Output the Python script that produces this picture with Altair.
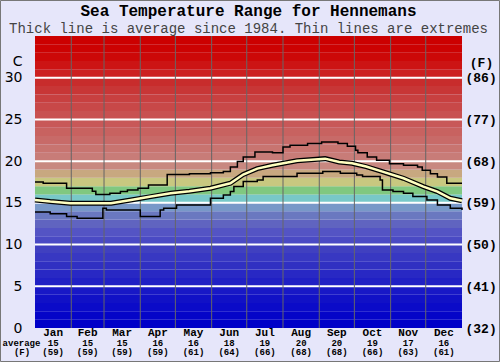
import altair as alt
import pandas as pd

W, H = 427, 292
MONO = "'Liberation Mono', 'Courier New', 'DejaVu Sans Mono', monospace"

title_text = "Sea Temperature Range for Hennemans"
subtitle_text = "Thick line is average since 1984. Thin lines are extremes"

months = ["Jan", "Feb", "Mar", "Apr", "May", "Jun", "Jul", "Aug", "Sep", "Oct", "Nov", "Dec"]
month_start = [0, 31, 59, 90, 120, 151, 181, 212, 243, 273, 304, 334, 365]
avg_c = [15, 15, 15, 16, 16, 18, 19, 20, 20, 19, 17, 16]
avg_f = [59, 59, 59, 59, 61, 64, 66, 68, 68, 66, 63, 61]
y_ticks = [0, 5, 10, 15, 20, 25, 30]

max_day = [0, 7, 27, 49, 52, 64, 73, 79, 88, 97, 113, 132, 150, 161, 167, 173, 178, 188,
           203, 212, 218, 233, 245, 259, 267, 274, 276, 284, 292, 303, 315, 327, 331, 338,
           344, 352, 365]
max_val = [17.5, 17.35, 16.75, 16.4, 16.0, 16.15, 16.35, 16.55, 16.75, 17.15, 18.4, 18.5,
           18.6, 18.75, 19.3, 19.95, 20.5, 21.1, 21.0, 21.7, 21.9, 22.1, 22.3, 22.1, 21.8,
           21.3, 21.0, 20.5, 20.1, 19.7, 19.5, 19.3, 18.9, 18.5, 18.1, 17.35, 17.35]

avg_day = [0, 13, 30, 65, 82, 99, 116, 132, 150, 167, 178, 190, 203, 224, 248, 260, 271,
           283, 297, 315, 332, 344, 355, 365]
avg_val = [15.35, 15.15, 14.95, 14.95, 15.35, 15.75, 16.15, 16.4, 16.75, 17.35, 18.4, 19.1,
           19.5, 20.05, 20.3, 19.9, 19.75, 19.35, 18.75, 17.95, 16.95, 16.35, 15.55, 15.25]

min_day = [0, 13, 27, 36, 58, 61, 90, 107, 110, 121, 150, 161, 167, 170, 178, 190, 195,
           224, 246, 261, 275, 280, 295, 297, 306, 315, 323, 335, 344, 355, 365]
min_val = [13.9, 13.7, 13.35, 13.15, 14.35, 14.15, 13.35, 14.15, 14.35, 14.75, 15.55, 15.95,
           16.35, 16.95, 17.55, 17.75, 18.15, 18.55, 18.75, 18.55, 18.35, 18.15, 17.75, 16.55,
           16.35, 16.15, 15.75, 15.35, 14.75, 14.35, 14.15]

band_colors = [
    "#0000c8", "#0505c8", "#0b0bc8", "#1111c6", "#1818c6", "#2020c4", "#2828c4", "#3030c2",
    "#3838c2", "#4040c0", "#4a4ac4", "#5454c4", "#6064c0", "#6a78c0", "#7898c8", "#78c8c8",
    "#80c880", "#c8c880", "#c8a880", "#c88880", "#c87c78", "#c87470", "#c86a68", "#c86260",
    "#c85858", "#c85050", "#c84848", "#c84040", "#c83636", "#c82c2c", "#cc2020", "#cc1414",
    "#cc0808", "#cc0202", "#cc0000",
]

xs = alt.Scale(domain=[0, 365], nice=False, zero=False)
ys = alt.Scale(domain=[0, 35], nice=False, zero=False)

bands = pd.DataFrame({"lo": list(range(35)), "hi": list(range(1, 36)), "col": band_colors})
grid_df = pd.DataFrame({"v": y_ticks[1:]})
vlines = pd.DataFrame({"d": month_start[1:-1]})
mx = pd.DataFrame({"d": max_day, "v": max_val})
av = pd.DataFrame({"d": avg_day, "v": avg_val})
mn = pd.DataFrame({"d": min_day, "v": min_val})
mid = [(month_start[i] + month_start[i + 1]) / 2 for i in range(12)]
lab = pd.DataFrame({"d": mid, "m": months, "c": [str(v) for v in avg_c],
                    "f": ["(%d)" % v for v in avg_f]})
one = pd.DataFrame({"a": [0]})

left_axis = alt.Axis(values=y_ticks, ticks=False, domain=False, grid=False,
                     labelFont="DejaVu Sans", labelFontSize=14, labelColor="black",
                     labelPadding=13, title="C", titleAngle=0, titleX=-13, titleY=25,
                     titleAlign="right", titleBaseline="middle", titleFont="DejaVu Sans",
                     titleFontSize=14, titleFontWeight="normal", titleColor="black")
right_axis = alt.Axis(orient="right", values=y_ticks, ticks=False, domain=False, grid=False,
                      labelExpr="'(' + format(datum.value * 9 / 5 + 32, 'd') + ')'",
                      labelFont=MONO, labelFontWeight="bold", labelFontSize=13,
                      labelColor="black", labelPadding=3, title="(F)", titleAngle=0,
                      titleX=19, titleY=26, titleAlign="center", titleBaseline="middle",
                      titleFont=MONO, titleFontWeight="bold", titleFontSize=13,
                      titleColor="black")

band_layer = alt.Chart(bands).mark_rect().encode(
    x=alt.value(0), x2=alt.value(W),
    y=alt.Y("lo:Q", scale=ys, axis=left_axis), y2="hi:Q",
    color=alt.Color("col:N", scale=None),
)
grid_layer = alt.Chart(grid_df).mark_rule(color="white", strokeWidth=2).encode(
    y=alt.Y("v:Q", scale=ys, axis=right_axis),
)
vline_layer = alt.Chart(vlines).mark_rule(color="#666666", strokeWidth=1).encode(
    x=alt.X("d:Q", scale=xs, axis=None),
)
max_layer = alt.Chart(mx).mark_line(color="black", strokeWidth=1.5, interpolate="step-after").encode(
    x=alt.X("d:Q", scale=xs, axis=None), y=alt.Y("v:Q", scale=ys, axis=None))
min_layer = alt.Chart(mn).mark_line(color="black", strokeWidth=1.5, interpolate="step-after").encode(
    x=alt.X("d:Q", scale=xs, axis=None), y=alt.Y("v:Q", scale=ys, axis=None))
avg_out = alt.Chart(av).mark_line(color="black", strokeWidth=5).encode(
    x=alt.X("d:Q", scale=xs, axis=None), y=alt.Y("v:Q", scale=ys, axis=None))
avg_in = alt.Chart(av).mark_line(color="#ffffc0", strokeWidth=2.5).encode(
    x=alt.X("d:Q", scale=xs, axis=None), y=alt.Y("v:Q", scale=ys, axis=None))

month_txt = alt.Chart(lab).mark_text(font=MONO, fontWeight="bold", fontSize=11,
                                     baseline="middle", color="black").encode(
    x=alt.X("d:Q", scale=xs, axis=None), y=alt.value(H + 5), text="m:N")
c_txt = alt.Chart(lab).mark_text(font=MONO, fontSize=9, fontWeight="bold", baseline="middle",
                                 color="black").encode(
    x=alt.X("d:Q", scale=xs, axis=None), y=alt.value(H + 15), text="c:N")
f_txt = alt.Chart(lab).mark_text(font=MONO, fontSize=9, fontWeight="bold", baseline="middle",
                                 color="black").encode(
    x=alt.X("d:Q", scale=xs, axis=None), y=alt.value(H + 24), text="f:N")
avg_word = alt.Chart(one).mark_text(font=MONO, fontSize=9, fontWeight="bold", baseline="middle",
                                    color="black", text="average").encode(
    x=alt.value(-13.5), y=alt.value(H + 15))
f_word = alt.Chart(one).mark_text(font=MONO, fontSize=9, fontWeight="bold", baseline="middle",
                                  color="black", text="(F)").encode(
    x=alt.value(-13), y=alt.value(H + 24))
title_layer = alt.Chart(one).mark_text(font=MONO, fontWeight="bold", fontSize=16,
                                       baseline="alphabetic", color="black", text=title_text).encode(
    x=alt.value(W / 2), y=alt.value(-20))
sub_layer = alt.Chart(one).mark_text(font=MONO, fontSize=14, baseline="alphabetic",
                                     color="#444444", text=subtitle_text).encode(
    x=alt.value(W / 2), y=alt.value(-3.5))
border = alt.Chart(one).mark_rect(fillOpacity=0, stroke="#777777", strokeWidth=1).encode(
    x=alt.value(-34.5), x2=alt.value(W + 37.5), y=alt.value(-35.5), y2=alt.value(H + 33.5))

chart = alt.layer(
    band_layer, grid_layer, vline_layer, max_layer, min_layer, avg_out, avg_in,
    month_txt, c_txt, f_txt, avg_word, f_word, title_layer, sub_layer, border,
).resolve_axis(y="independent").properties(
    width=W, height=H, background="#e6e6fa", autosize="none",
    padding={"left": 35, "top": 36, "right": 38, "bottom": 34},
).configure_view(strokeWidth=0)

chart.save("out.html", embed_options={"renderer": "svg", "actions": False})
